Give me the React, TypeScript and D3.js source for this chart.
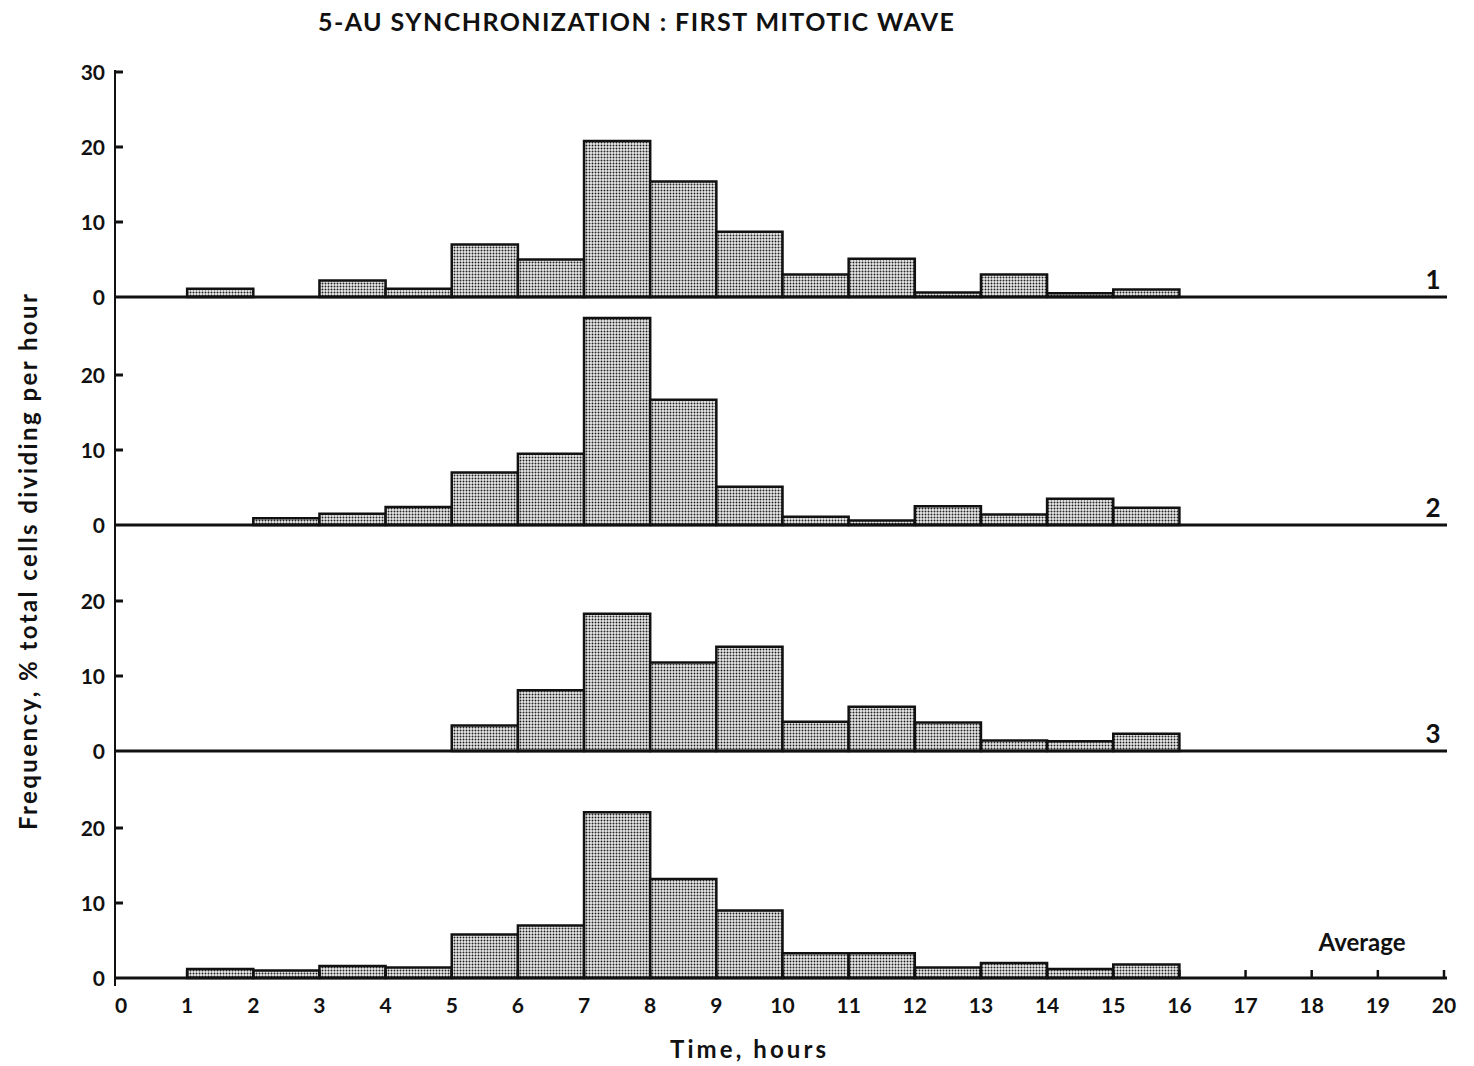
import * as d3 from 'd3';

// hourly bins (start hour of each 1-hour interval)
const binStarts = [0, 1, 2, 3, 4, 5, 6, 7, 8, 9, 10, 11, 12, 13, 14, 15];

// % total cells dividing per hour
const experiment1 = [0, 1.1, 0, 2.2, 1.1, 7.0, 5.0, 20.8, 15.4, 8.7, 3.0, 5.1, 0.6, 3.0, 0.5, 1.0];
const experiment2 = [0, 0, 0.9, 1.5, 2.4, 7.0, 9.5, 27.6, 16.7, 5.1, 1.1, 0.6, 2.5, 1.4, 3.5, 2.3];
const experiment3 = [0, 0, 0, 0, 0, 3.4, 8.1, 18.3, 11.8, 13.9, 3.9, 5.9, 3.8, 1.4, 1.3, 2.3];
const average = [0, 1.2, 1.0, 1.6, 1.4, 5.8, 7.0, 22.1, 13.2, 9.0, 3.3, 3.3, 1.4, 2.0, 1.2, 1.8];

const panelLabels = ['1', '2', '3', 'Average'];
const hourTicks = d3.range(0, 21);
const topPanelTicks = [0, 10, 20, 30];
const panelTicks = [0, 10, 20];

const W = 1474;
const H = 1066;
const FONT = 'Lato, "DejaVu Sans", sans-serif';

const axisX = 115;
const baselines = [297, 525, 751, 978];
const unitPx = 7.5;

const x = d3.scaleLinear().domain([0, 20]).range([121, 1444]);

export default function App() {
  const panels = [experiment1, experiment2, experiment3, average];

  return (
    <div style={{ position: 'absolute', left: 0, top: 0 }}>
      <svg width={W} height={H} viewBox={`0 0 ${W} ${H}`} style={{ display: 'block', background: '#fff' }}>
        <defs>
          <pattern id="stipple" width={3} height={3} patternUnits="userSpaceOnUse">
            <rect width={3} height={3} fill="#ececec" />
            <circle cx={1.5} cy={1.5} r={1.0} fill="#222" />
          </pattern>
        </defs>

        {/* title */}
        <text
          x={636}
          y={31}
          textAnchor="middle"
          fontFamily={FONT}
          fontWeight={700}
          fontSize={25}
          textLength={636}
          lengthAdjust="spacing"
          fill="#111"
        >
          5-AU SYNCHRONIZATION : FIRST MITOTIC WAVE
        </text>

        {/* left axis */}
        <line x1={axisX} x2={axisX} y1={70} y2={986} stroke="#111" strokeWidth={2} />

        {panels.map((values, i) => {
          const base = baselines[i];
          const y = d3.scaleLinear().domain([0, 30]).range([base, base - 30 * unitPx]);
          const ticks = i === 0 ? topPanelTicks : panelTicks;
          const isLast = i === panels.length - 1;
          return (
            <g key={i}>
              {/* bars */}
              {binStarts.map((h, j) =>
                values[j] > 0 ? (
                  <rect
                    key={j}
                    x={x(h)}
                    y={y(values[j])}
                    width={x(h + 1) - x(h)}
                    height={y(0) - y(values[j])}
                    fill="url(#stipple)"
                    stroke="#111"
                    strokeWidth={2.5}
                  />
                ) : null
              )}

              {/* zero line */}
              <line x1={axisX} x2={x(20) + 3} y1={y(0)} y2={y(0)} stroke="#111" strokeWidth={3} />

              {/* y ticks */}
              {ticks.map((t) => (
                <g key={t}>
                  {t > 0 && (
                    <line x1={axisX} x2={axisX + 8} y1={y(t)} y2={y(t)} stroke="#111" strokeWidth={3} />
                  )}
                  <text
                    x={axisX - 10}
                    y={y(t)}
                    dy="0.36em"
                    textAnchor="end"
                    fontFamily={FONT}
                    fontWeight={700}
                    fontSize={21}
                    fill="#111"
                  >
                    {t}
                  </text>
                </g>
              ))}

              {/* panel label */}
              <text
                x={isLast ? 1362 : 1433}
                y={isLast ? y(0) - 27 : y(0) - 8}
                textAnchor="middle"
                fontFamily={FONT}
                fontWeight={700}
                fontSize={isLast ? 24 : 26}
                fill="#111"
              >
                {panelLabels[i]}
              </text>

              {/* hour axis on bottom panel */}
              {isLast &&
                hourTicks.map((h) => (
                  <g key={h}>
                    {h > 0 && (
                      <line x1={x(h)} x2={x(h)} y1={y(0)} y2={y(0) - 8} stroke="#111" strokeWidth={2.5} />
                    )}
                    <text
                      x={x(h)}
                      y={y(0) + 35}
                      textAnchor="middle"
                      fontFamily={FONT}
                      fontWeight={700}
                      fontSize={21}
                      fill="#111"
                    >
                      {h}
                    </text>
                  </g>
                ))}
            </g>
          );
        })}

        {/* axis titles */}
        <text
          x={748}
          y={1058}
          textAnchor="middle"
          fontFamily={FONT}
          fontWeight={700}
          fontSize={24}
          textLength={156}
          lengthAdjust="spacing"
          fill="#111"
        >
          Time, hours
        </text>
        <text
          transform="translate(37, 562) rotate(-90)"
          textAnchor="middle"
          fontFamily={FONT}
          fontWeight={700}
          fontSize={24}
          textLength={536}
          lengthAdjust="spacing"
          fill="#111"
        >
          Frequency,  % total cells dividing per hour
        </text>
      </svg>
    </div>
  );
}
